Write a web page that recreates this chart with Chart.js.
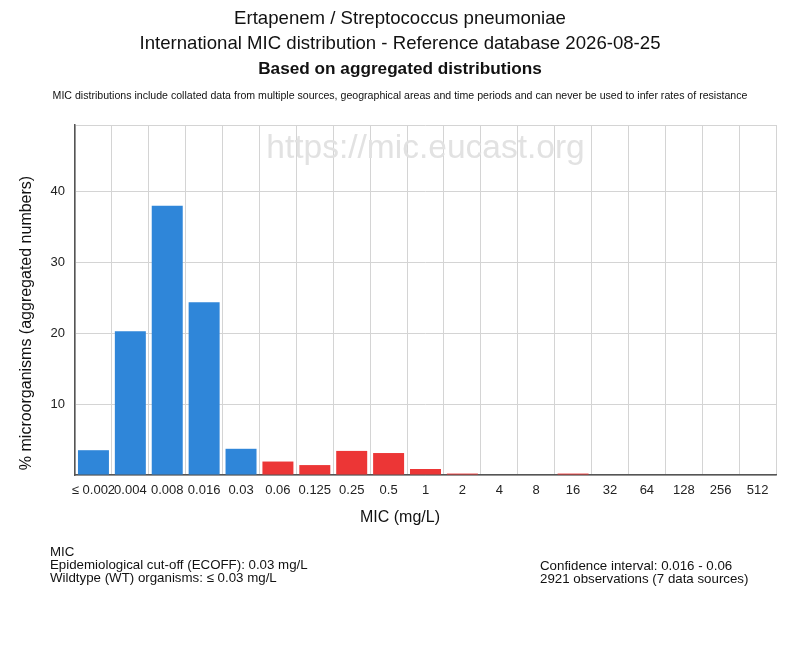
<!DOCTYPE html>
<html>
<head>
<meta charset="utf-8">
<script src="https://cdn.jsdelivr.net/npm/chart.js@4.4.1/dist/chart.umd.min.js"></script>
<style>
  html, body { margin: 0; padding: 0; background: #fff; }
  #wrap { width: 800px; height: 650px; position: relative; }
</style>
</head>
<body>
<div id="wrap"><canvas id="micChart" width="800" height="650"></canvas></div>
<script>
const micLabels = ["≤ 0.002", "0.004", "0.008", "0.016", "0.03", "0.06", "0.125", "0.25", "0.5",
  "1", "2", "4", "8", "16", "32", "64", "128", "256", "512"];
const percentValues = [3.5, 20.3, 38.0, 24.4, 3.7, 1.9, 1.4, 3.4, 3.1, 0.85, 0.2, 0, 0, 0.2, 0, 0, 0, 0, 0];
const ecoffIndex = 4; // 0.03 mg/L, bars up to here are wildtype
const yTicks = [10, 20, 30, 40];

const titleLines = [
  "Ertapenem / Streptococcus pneumoniae",
  "International MIC distribution - Reference database 2026-08-25"
];
const boldLine = "Based on aggregated distributions";
const noteLine = "MIC distributions include collated data from multiple sources, geographical areas and time periods and can never be used to infer rates of resistance";
const footLeft = ["MIC", "Epidemiological cut-off (ECOFF): 0.03 mg/L", "Wildtype (WT) organisms: ≤ 0.03 mg/L"];
const footRight = ["Confidence interval: 0.016 - 0.06", "2921 observations (7 data sources)"];

const FONT = "'Liberation Sans', Arial, sans-serif";
const barColors = percentValues.map((v, i) => i <= ecoffIndex ? "#2f86d9" : "#ec3636");

const textPlugin = {
  id: "textPlugin",
  beforeDatasetsDraw(chart) {
    const ctx = chart.ctx;
    const a = chart.chartArea;
    ctx.save();
    ctx.fillStyle = "#e2e2e2";
    ctx.font = "33.5px " + FONT;
    ctx.textAlign = "center";
    ctx.textBaseline = "middle";
    ctx.fillText("https://mic.eucast.org", (a.left + a.right) / 2, 149);
    ctx.restore();
  },
  afterDraw(chart) {
    const ctx = chart.ctx;
    ctx.save();
    ctx.fillStyle = "#111";
    ctx.textAlign = "center";
    ctx.textBaseline = "middle";
    ctx.font = "18.6px " + FONT;
    ctx.fillText(titleLines[0], 400, 19);
    ctx.fillText(titleLines[1], 400, 44);
    ctx.font = "bold 17.2px " + FONT;
    ctx.fillText(boldLine, 400, 69);
    ctx.font = "10.6px " + FONT;
    ctx.fillText(noteLine, 400, 96);

    // axis titles
    ctx.font = "16px " + FONT;
    ctx.fillText("MIC (mg/L)", 400, 518);
    ctx.save();
    ctx.translate(27, 323);
    ctx.rotate(-Math.PI / 2);
    ctx.fillText("% microorganisms (aggregated numbers)", 0, 0);
    ctx.restore();

    // footer
    ctx.font = "13.3px " + FONT;
    ctx.textAlign = "left";
    footLeft.forEach((t, i) => ctx.fillText(t, 50, 552 + i * 13));
    footRight.forEach((t, i) => ctx.fillText(t, 540, 566 + i * 13));
    ctx.restore();
  }
};

new Chart(document.getElementById("micChart"), {
  type: "bar",
  data: {
    labels: micLabels,
    datasets: [{
      data: percentValues,
      backgroundColor: barColors,
      borderWidth: 0,
      categoryPercentage: 1.0,
      barPercentage: 0.84
    }]
  },
  options: {
    responsive: false,
    animation: false,
    layout: { padding: { left: 0, top: 125, right: 24, bottom: 115 } },
    plugins: { legend: { display: false }, tooltip: { enabled: false } },
    scales: {
      x: {
        grid: { color: "#d4d4d4", lineWidth: 1, offset: true, drawTicks: false },
        border: { color: "#555", width: 1.5 },
        ticks: { color: "#222", font: { size: 13, family: FONT }, padding: 8, maxRotation: 0, autoSkip: false },
        afterFit(scale) { scale.height = 60; }
      },
      y: {
        min: 0,
        max: Math.max(...percentValues) * 1.3,
        grid: { color: "#d4d4d4", lineWidth: 1, drawTicks: false },
        border: { color: "#555", width: 1.5 },
        afterBuildTicks(scale) {
          scale.ticks = [0, ...yTicks, scale.max].map(v => ({ value: v }));
        },
        ticks: {
          color: "#222",
          font: { size: 13, family: FONT },
          padding: 10,
          callback: v => yTicks.includes(v) ? v : ""
        },
        afterFit(scale) { scale.width = 75; }
      }
    }
  },
  plugins: [textPlugin]
});
</script>
</body>
</html>
